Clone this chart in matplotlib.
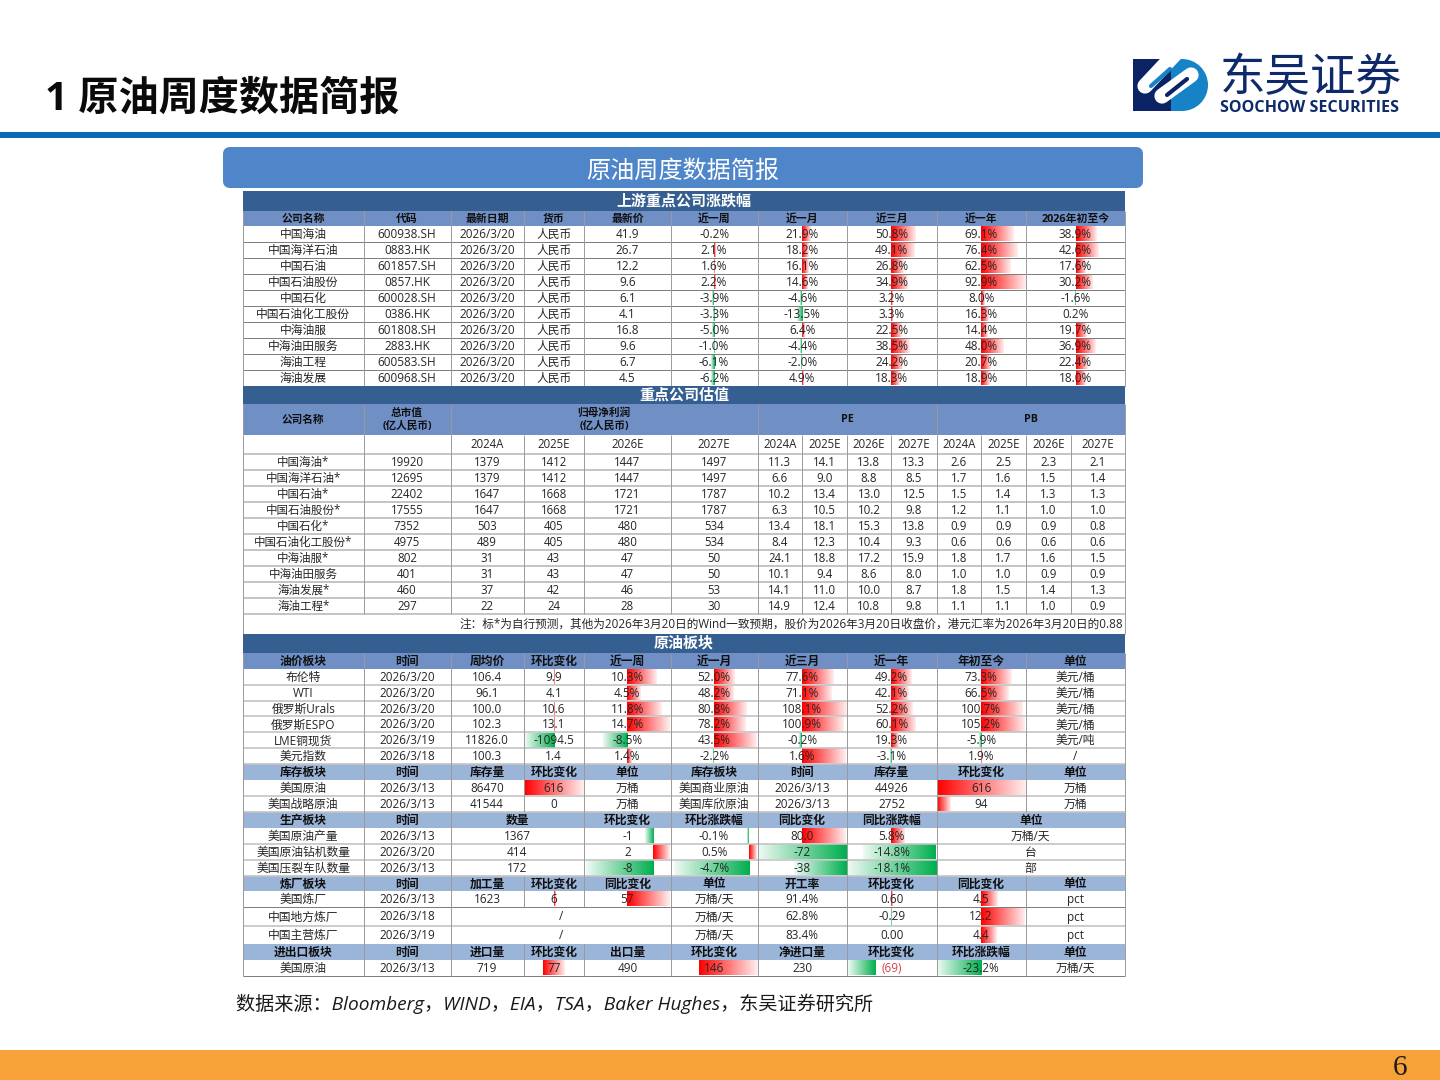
import numpy as np
import matplotlib
matplotlib.use('Agg')
import matplotlib.pyplot as plt
from matplotlib.patches import Rectangle, FancyBboxPatch, Wedge

plt.rcParams['font.family'] = ['Open Sans', 'Noto Sans CJK SC', 'DejaVu Sans']

# upstream company moves
names = ['中国海油', '中国海洋石油', '中国石油', '中国石油股份', '中国石化', '中国石油化工股份',
         '中海油服', '中海油田服务', '海油工程', '海油发展']
codes = ['600938.SH', '0883.HK', '601857.SH', '0857.HK', '600028.SH', '0386.HK',
         '601808.SH', '2883.HK', '600583.SH', '600968.SH']
prices = ['41.9', '26.7', '12.2', '9.6', '6.1', '4.1', '16.8', '9.6', '6.7', '4.5']
chg_week = ['-0.2%', '2.1%', '1.6%', '2.2%', '-3.9%', '-3.3%', '-5.0%', '-1.0%', '-6.1%', '-6.2%']
chg_month = ['21.9%', '18.2%', '16.1%', '14.6%', '-4.6%', '-13.5%', '6.4%', '-4.4%', '-2.0%', '4.9%']
chg_3m = ['50.8%', '49.1%', '26.8%', '34.9%', '3.2%', '3.3%', '22.5%', '38.5%', '24.2%', '18.3%']
chg_year = ['69.1%', '76.4%', '62.5%', '92.9%', '8.0%', '16.3%', '14.4%', '48.0%', '20.7%', '18.9%']
chg_ytd = ['38.9%', '42.6%', '17.6%', '30.2%', '-1.6%', '0.2%', '19.7%', '36.9%', '22.4%', '18.0%']

# valuation
val_names = ['中国海油*', '中国海洋石油*', '中国石油*', '中国石油股份*', '中国石化*', '中国石油化工股份*',
             '中海油服*', '中海油田服务', '海油发展*', '海油工程*']
mkt_cap = [19920, 12695, 22402, 17555, 7352, 4975, 802, 401, 460, 297]
profit = [[1379, 1412, 1447, 1497], [1379, 1412, 1447, 1497], [1647, 1668, 1721, 1787],
          [1647, 1668, 1721, 1787], [503, 405, 480, 534], [489, 405, 480, 534],
          [31, 43, 47, 50], [31, 43, 47, 50], [37, 42, 46, 53], [22, 24, 28, 30]]
pe = [[11.3, 14.1, 13.8, 13.3], [6.6, 9.0, 8.8, 8.5], [10.2, 13.4, 13.0, 12.5],
      [6.3, 10.5, 10.2, 9.8], [13.4, 18.1, 15.3, 13.8], [8.4, 12.3, 10.4, 9.3],
      [24.1, 18.8, 17.2, 15.9], [10.1, 9.4, 8.6, 8.0], [14.1, 11.0, 10.0, 8.7],
      [14.9, 12.4, 10.8, 9.8]]
pb = [[2.6, 2.5, 2.3, 2.1], [1.7, 1.6, 1.5, 1.4], [1.5, 1.4, 1.3, 1.3], [1.2, 1.1, 1.0, 1.0],
      [0.9, 0.9, 0.9, 0.8], [0.6, 0.6, 0.6, 0.6], [1.8, 1.7, 1.6, 1.5], [1.0, 1.0, 0.9, 0.9],
      [1.8, 1.5, 1.4, 1.3], [1.1, 1.1, 1.0, 0.9]]
years = ['2024A', '2025E', '2026E', '2027E']
note = '注：标*为自行预测，其他为2026年3月20日的Wind一致预期，股价为2026年3月20日收盘价，港元汇率为2026年3月20日的0.88'

# crude oil section
oil_header = ['油价板块', '时间', '周均价', '环比变化', '近一周', '近一月', '近三月', '近一年', '年初至今', '单位']
oil_rows = [['布伦特', '2026/3/20', '106.4', '9.9', '10.3%', '52.0%', '77.6%', '49.2%', '73.3%', '美元/桶'],
            ['WTI', '2026/3/20', '96.1', '4.1', '4.5%', '48.2%', '71.1%', '42.1%', '66.5%', '美元/桶'],
            ['俄罗斯Urals', '2026/3/20', '100.0', '10.6', '11.8%', '80.8%', '108.1%', '52.2%', '100.7%', '美元/桶'],
            ['俄罗斯ESPO', '2026/3/20', '102.3', '13.1', '14.7%', '78.2%', '100.9%', '60.1%', '105.2%', '美元/桶'],
            ['LME铜现货', '2026/3/19', '11826.0', '-1094.5', '-8.5%', '43.5%', '-0.2%', '19.3%', '-5.9%', '美元/吨'],
            ['美元指数', '2026/3/18', '100.3', '1.4', '1.4%', '-2.2%', '1.6%', '-3.1%', '1.9%', '/']]
stock_header = ['库存板块', '时间', '库存量', '环比变化', '单位', '库存板块', '时间', '库存量', '环比变化', '单位']
stock_rows = [['美国原油', '2026/3/13', '86470', '616', '万桶', '美国商业原油', '2026/3/13', '44926', '616', '万桶'],
              ['美国战略原油', '2026/3/13', '41544', '0', '万桶', '美国库欣原油', '2026/3/13', '2752', '94', '万桶']]
prod_header = ['生产板块', '时间', '数量', '环比变化', '环比涨跌幅', '同比变化', '同比涨跌幅', '单位']
prod_rows = [['美国原油产量', '2026/3/13', '1367', '-1', '-0.1%', '80.0', '5.8%', '万桶/天'],
             ['美国原油钻机数量', '2026/3/20', '414', '2', '0.5%', '-72', '-14.8%', '台'],
             ['美国压裂车队数量', '2026/3/13', '172', '-8', '-4.7%', '-38', '-18.1%', '部']]
ref_header = ['炼厂板块', '时间', '加工量', '环比变化', '同比变化', '单位', '开工率', '环比变化', '同比变化', '单位']
ref_rows = [['美国炼厂', '2026/3/13', '1623', '6', '57', '万桶/天', '91.4%', '0.60', '4.5', 'pct'],
            ['中国地方炼厂', '2026/3/18', '/', '万桶/天', '62.8%', '-0.29', '12.2', 'pct'],
            ['中国主营炼厂', '2026/3/19', '/', '万桶/天', '83.4%', '0.00', '4.4', 'pct']]
trade_header = ['进出口板块', '时间', '进口量', '环比变化', '出口量', '环比变化', '净进口量', '环比变化', '环比涨跌幅', '单位']
trade_rows = [['美国原油', '2026/3/13', '719', '77', '490', '146', '230', '(69)', '-23.2%', '万桶/天']]

# column edges, in pixels of the slide
E = [243, 363.5, 450.5, 523.5, 584, 670.7, 757.5, 846.7, 936.5, 1025.7, 1125]
E_VAL = E[:7] + [802, 846.7, 891.3, 936.5, 981, 1025.7, 1070.7, 1125]
E_PROD = [E[0], E[1], E[2], E[4], E[5], E[6], E[7], E[8], E[10]]
E_REF = [E[0], E[1], E[2], E[5], E[6], E[7], E[8], E[9], E[10]]

DARK = '#365f91'
MID = '#6f8fc5'
LIGHT = '#9bb5d9'
GRID = '#9a9a9a'
PALE = '#c4c4c4'
TXT = '#262626'
RED = (1.0, 0.0, 0.0)
GREEN = (0.0, 0.69, 0.31)
NAVY = '#0b2265'
SKY = '#1583c6'

fig = plt.figure(figsize=(14.4, 10.8), dpi=100)
ax = fig.add_axes([0, 0, 1, 1])


def hline(y, color=GRID, lw=0.7):
    ax.plot([243, 1125], [y, y], color=color, lw=lw, zorder=4, solid_capstyle='butt')


def band(y0, y1, title):
    ax.add_patch(Rectangle((243, y0), 882, y1 - y0, fc=DARK, ec='none', zorder=5))
    ax.text(684, (y0 + y1) / 2, title, color='white', fontsize=10.8, fontweight='bold',
            ha='center', va='center', zorder=6)


def bar(value, x0, x1, zero, scale, y0, y1):
    # data bar, solid at the axis and fading to white at its end
    end = np.clip(zero + value * scale, x0, x1)
    if abs(end - zero) < 0.2:
        return
    col = np.array(RED if value > 0 else GREEN)
    t = np.linspace(0.0, 0.93, 48)
    img = (col[None, :] * (1 - t[:, None]) + t[:, None])[None, :, :]
    if end < zero:
        img = img[:, ::-1, :]
    ax.imshow(img, extent=(min(zero, end), max(zero, end), y1 - 0.5, y0 + 0.5),
              aspect='auto', zorder=2, interpolation='bilinear')


def num(s):
    return float(s.strip('%').replace('(', '-').replace(')', ''))


def row(y0, y1, edges, cells, fc=None, bold=False, size=8.5, bars=None, over=None, idx=0, color=None):
    if fc:
        ax.add_patch(Rectangle((243, y0), 882, y1 - y0, fc=fc, ec='none', zorder=1))
    ym = (y0 + y1) / 2
    for c, s in enumerate(cells):
        x0, x1 = edges[c], edges[c + 1]
        ax.text((x0 + x1) / 2, ym + 0.5, s, ha='center', va='center', fontsize=size, zorder=7,
                color=(color or {}).get((idx, c), '#101010' if bold else TXT),
                fontweight='bold' if bold else 'normal')
        if bars and c in bars and s != '/':
            zero, scale = (over or {}).get((idx, c), bars[c])
            bar(num(s), x0, x1, zero, scale, y0, y1)


def vlines(y0, y1, edges, color=GRID, lw=0.7):
    for x in edges:
        ax.plot([x, x], [y0, y1], color=color, lw=lw, zorder=4, solid_capstyle='butt')


# slide furniture
ax.text(45, 99.5, '1 原油周度数据简报', fontsize=28.9, fontweight='bold', color='#0a0a0a', ha='left', va='center')
ax.add_patch(Rectangle((0, 132), 1440, 6, fc='#0b6cb3', ec='none'))
ax.add_patch(Rectangle((0, 1050), 1440, 30, fc='#f7a239', ec='none'))
ax.text(1400, 1068, '6', fontsize=21, family='Liberation Serif', color='#1a1a1a', ha='center', va='center')
ax.add_patch(FancyBboxPatch((226, 150), 914, 35, boxstyle='round,pad=0,rounding_size=4', mutation_aspect=1,
                            fc='#4f86c9', ec='#4f86c9', lw=4.3, zorder=1))
ax.text(683, 172, '原油周度数据简报', fontsize=17.4, color='white', ha='center', va='center', zorder=2)

# logo
ax.add_patch(Rectangle((1133, 59), 46, 52, fc=NAVY, ec='none', zorder=1))
ax.add_patch(Rectangle((1171, 59), 11, 52, fc=SKY, ec='none', zorder=2))
ax.add_patch(Wedge((1182, 85), 26, -90, 90, fc=SKY, ec='none', zorder=2))
ax.plot([1145, 1175], [86, 54], color='white', lw=11, solid_capstyle='round', zorder=3)
ax.plot([1151, 1170], [86, 69], color=SKY, lw=3, solid_capstyle='round', zorder=4)
ax.plot([1162, 1191], [96, 75], color='white', lw=11, solid_capstyle='round', zorder=3)
ax.plot([1167, 1187], [95, 79], color=NAVY, lw=3, solid_capstyle='round', zorder=4)
ax.add_patch(Rectangle((1130, 50), 90, 9, fc='white', ec='none', zorder=5))
ax.text(1310.5, 77.5, '东吴证券', fontsize=32.8, color='#0f2a6b', ha='center', va='center', family='Noto Sans CJK SC')
ax.text(1310, 107.5, 'SOOCHOW SECURITIES', fontsize=11.6, fontweight='bold', family='Open Sans',
        color='#0f2a6b', ha='center', va='center')

# source line
ax.text(236, 1004, '数据来源：Bloomberg，WIND，EIA，TSA，Baker Hughes，东吴证券研究所', fontsize=13.75, style='italic',
        family=['Open Sans', 'Noto Sans CJK SC'], color='#1a1a1a', ha='left', va='center')

# upstream table
band(191, 211, '上游重点公司涨跌幅')
row(211, 226, E, ['公司名称', '代码', '最新日期', '货币', '最新价', '近一周', '近一月', '近三月', '近一年', '2026年初至今'],
    fc=MID, bold=True, size=7.8)
up_bars = {5: (714.3, 0.5), 6: (802, 0.38), 7: (891.3, 0.474), 8: (981, 0.474), 9: (1075.7, 0.53)}
for i in range(10):
    y = 226 + i * 16
    row(y, y + 16, E, [names[i], codes[i], '2026/3/20', '人民币', prices[i], chg_week[i], chg_month[i], chg_3m[i],
                       chg_year[i], chg_ytd[i]], bars=up_bars)
    hline(y + 16, color='#7a7a7a')
vlines(211, 386, E)

# valuation table
band(386, 404, '重点公司估值')
ax.add_patch(Rectangle((243, 404), 882, 31, fc=MID, ec='none', zorder=1))
for x0, x1, s in [(E[0], E[1], '公司名称'), (E[1], E[2], '总市值\n(亿人民币)'), (E[2], E[6], '归母净利润\n(亿人民币)'),
                  (E[6], E[8], 'PE'), (E[8], E[10], 'PB')]:
    ax.text((x0 + x1) / 2, 420, s, ha='center', va='center', fontsize=7.7, fontweight='bold', color='#101010',
            linespacing=1.25, zorder=7)
vlines(404, 435, [E[0], E[1], E[2], E[6], E[8], E[10]])
row(435, 454, E_VAL, ['', ''] + years + years + years, size=8.3)
hline(454, color=PALE, lw=1.4)
for i in range(10):
    y = 454 + i * 16
    cells = [val_names[i], str(mkt_cap[i])] + [str(v) for v in profit[i]] + ['%.1f' % v for v in pe[i] + pb[i]]
    row(y, y + 16, E_VAL, cells, size=8.3)
    hline(y + 16, color=PALE, lw=1.4)
vlines(435, 614, E_VAL)
ax.text(1123, 624.5, note, ha='right', va='center', fontsize=8.4, color=TXT, zorder=7)
vlines(614, 634, [E[0], E[10]])

# crude oil tables
band(634, 653, '原油板块')
row(653, 669, E, oil_header, fc=MID, bold=True, size=8.5)
oil_bars = {3: (554, 0.0265), 4: (627.3, 2.9), 5: (714.3, 0.4), 6: (802, 0.41), 7: (891.3, 0.41), 8: (981, 0.41)}
oil_over = {(4, 5): (714.3, 0.97), (4, 6): (802, 15.0), (5, 6): (802, 27.0)}
for i, r in enumerate(oil_rows):
    y = 669 + i * 15.83
    row(y, y + 15.83, E, r, bars=oil_bars, over=oil_over, idx=i)
    hline(y + 15.83, color=PALE, lw=1.2)
row(764, 780, E, stock_header, fc=LIGHT, bold=True, size=8.5)
stock_bars = {3: (523.5, 0.0974), 8: (936.5, 0.1429)}
for i, r in enumerate(stock_rows):
    y = 780 + i * 16
    row(y, y + 16, E, r, bars=stock_bars)
    hline(y + 16, color=PALE, lw=1.2)
vlines(653, 812, E)

row(812, 828, E_PROD, prod_header, fc=LIGHT, bold=True, size=8.5)
prod_bars = {3: (653.3, 8.4), 4: (748.7, 16.0), 5: (802, 0.54), 6: (891.3, 2.4)}
prod_over = {(1, 5): (846.2, 1.23), (2, 5): (846.2, 1.38), (1, 6): (936, 4.9), (2, 6): (936, 4.97)}
for i, r in enumerate(prod_rows):
    y = 828 + i * 16
    row(y, y + 16, E_PROD, r, bars=prod_bars, over=prod_over, idx=i)
    hline(y + 16, color=PALE, lw=1.2)
vlines(812, 876, E_PROD)

row(876, 891, E, ref_header, fc=LIGHT, bold=True, size=8.5)
ref_bars = {3: (554, 0.25), 4: (627.3, 0.75), 7: (891.3, 2.5), 8: (981, 3.6)}
ref_ys = [891, 907, 926, 944]
row(ref_ys[0], ref_ys[1], E, ref_rows[0], bars=ref_bars)
bars_merged = {5: (891.3, 2.5), 6: (981, 3.6)}
row(ref_ys[1], ref_ys[2], E_REF, ref_rows[1], bars=bars_merged)
row(ref_ys[2], ref_ys[3], E_REF, ref_rows[2], bars=bars_merged)
hline(907, color='#7a7a7a')
hline(926, color=PALE, lw=1.2)
vlines(876, 907, E)
vlines(907, 944, E_REF)

row(944, 960, E, trade_header, fc=LIGHT, bold=True, size=8.5)
trade_bars = {3: (542.7, 0.28), 5: (698.7, 0.4), 7: (875.7, 0.4), 8: (981, 1.92)}
row(960, 975.5, E, trade_rows[0], bars=trade_bars, color={(0, 7): '#d8404a'})
hline(975.5, color='#7a7a7a')
vlines(944, 975.5, E)

ax.set_xlim(0, 1440)
ax.set_ylim(1080, 0)
ax.axis('off')
fig.savefig('out.png', dpi=100, facecolor='white')
